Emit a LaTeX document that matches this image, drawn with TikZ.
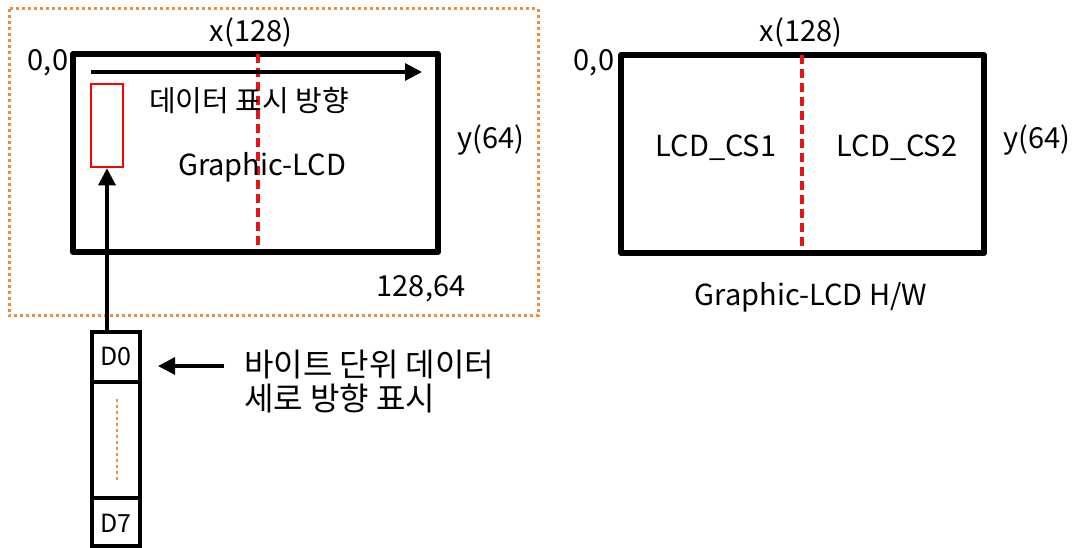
\documentclass[tikz,border=0pt]{standalone}
\usepackage{fontspec}
\setmainfont{Noto Sans CJK KR}
\usetikzlibrary{arrows.meta}
\definecolor{dotor}{RGB}{240,140,60}
\definecolor{dashred}{RGB}{230,20,20}
\tikzset{
  lcdbox/.style={draw=black,line width=6pt,line join=round},
  divline/.style={draw=dashred,line width=3.2pt,dash pattern=on 9pt off 5pt},
  lbl/.style={font=\fontsize{29}{35}\selectfont,inner sep=0pt},
  arr/.style={draw=black,line width=3.2pt,-{Triangle[length=17pt,width=17pt]}},
  bitlbl/.style={inner sep=0pt,font=\fontsize{25}{28}\selectfont},
  dotline/.style={draw=dotor,line width=3pt,dash pattern=on 3pt off 3pt},
}
\begin{document}
\begin{tikzpicture}[x=1pt,y=-1pt]
\useasboundingbox (0,0) rectangle (1072,548);
% orange dotted frame
\draw[dotline] (9,9) rectangle (538,316);
% left LCD
\draw[lcdbox] (73,54) rectangle (438,252);
\coordinate (dl1) at (258,54);
\coordinate (dl2) at (258,248);
\draw[divline] (dl1) -- (dl2);
\coordinate (ha1) at (91,72);
\coordinate (ha2) at (422,72);
\draw[arr] (ha1) -- (ha2);
\node[draw=red,line width=2.6pt,minimum width=32pt,minimum height=83pt,inner sep=0pt] (cell) at (107,125.5) {};
\node[lbl] (dir) at (249,101) {데이터 표시 방향};
\node[lbl] (glcd) at (262,167) {Graphic-LCD};
\node[lbl] (x1) at (251,32) {x(128)};
\node[lbl] (o1) at (48,63) {0,0};
\node[lbl] (y1) at (491,140) {y(64)};
\node[lbl] (e1) at (421,289) {128,64};
% byte column
\draw[draw=black,line width=4pt] (92,332) rectangle (140,546);
\draw[draw=black,line width=4pt] (92,382) -- (140,382);
\draw[draw=black,line width=4pt] (92,498) -- (140,498);
\node[bitlbl] (d0) at (116,357) {D0};
\node[bitlbl] (d7) at (116,523) {D7};
\coordinate (m1) at (117,399);
\coordinate (m2) at (117,482);
\draw[dotline,line width=2.6pt] (m1) -- (m2);
\coordinate (colTop) at (107,332);
\draw[arr] (colTop) -- (cell.south);
\coordinate (la1) at (224,366);
\coordinate (la2) at (158,366);
\draw[arr] (la1) -- (la2);
\node[lbl,font=\fontsize{32}{36}\selectfont,anchor=west,align=left] (note) at (244,382) {바이트 단위 데이터\\[-2pt]세로 방향 표시};
% right LCD
\draw[lcdbox] (621,55) rectangle (984,253);
\coordinate (dr1) at (802,55);
\coordinate (dr2) at (802,248);
\draw[divline] (dr1) -- (dr2);
\node[lbl] (x2) at (801,32) {x(128)};
\node[lbl] (o2) at (594,63) {0,0};
\node[lbl] (y2) at (1037,140) {y(64)};
\node[lbl] (cs1) at (716,148) {LCD\_CS1};
\node[lbl] (cs2) at (897,148) {LCD\_CS2};
\node[lbl] (hw) at (811,297) {Graphic-LCD H/W};
\end{tikzpicture}
\end{document}
